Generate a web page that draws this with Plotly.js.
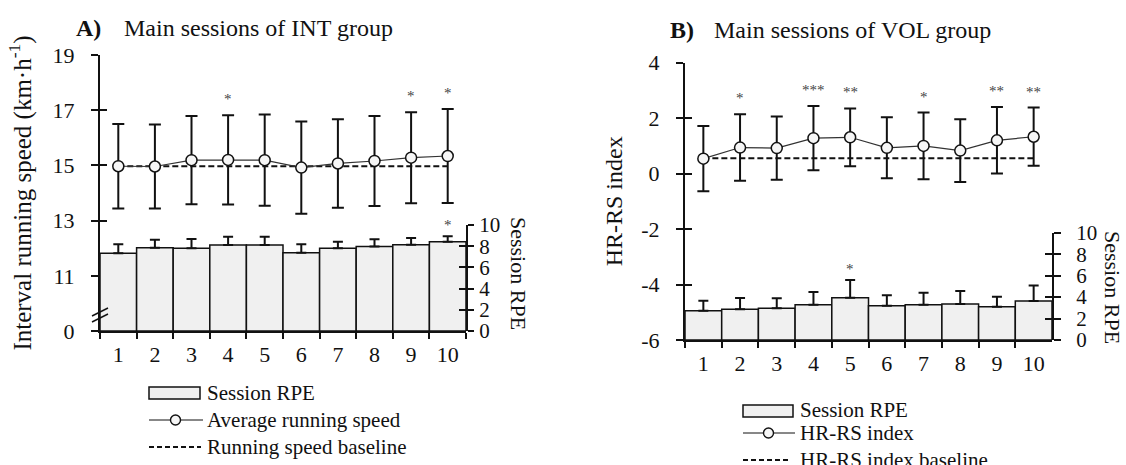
<!DOCTYPE html>
<html>
<head>
<meta charset="utf-8">
<script src="https://cdn.plot.ly/plotly-3.0.1.min.js"></script>
<style>
html,body{margin:0;padding:0;background:#fff;}
#chart{width:1126px;height:465px;}
</style>
</head>
<body>
<div id="chart"></div>
<script>
// ---------- data ----------
const sessions = ['1','2','3','4','5','6','7','8','9','10'];

// Panel A: INT group
const speedA      = [14.97, 14.96, 15.19, 15.20, 15.19, 14.92, 15.07, 15.16, 15.28, 15.34];
const speedSdA    = [1.53, 1.52, 1.60, 1.62, 1.65, 1.67, 1.60, 1.63, 1.65, 1.70];
const speedBaseA  = 14.97;
const speedStarsA = ['', '', '', '*', '', '', '', '', '*', '*'];
const rpeA        = [7.33, 7.86, 7.80, 8.11, 8.11, 7.39, 7.80, 7.96, 8.14, 8.43];
const rpeSdA      = [0.85, 0.75, 0.88, 0.79, 0.79, 0.79, 0.63, 0.69, 0.63, 0.50];
const rpeStarsA   = ['', '', '', '', '', '', '', '', '', '*'];
const speedTickVals = [9, 11, 13, 15, 17, 19];
const speedTickText = ['0', '11', '13', '15', '17', '19'];

// Panel B: VOL group
const hrrsB       = [0.54, 0.94, 0.92, 1.28, 1.31, 0.93, 1.00, 0.83, 1.20, 1.33];
const hrrsSdB     = [1.18, 1.20, 1.14, 1.16, 1.04, 1.10, 1.20, 1.13, 1.20, 1.05];
const hrrsBaseB   = 0.55;
const hrrsStarsB  = ['', '*', '', '***', '**', '', '*', '', '**', '**'];
const rpeB        = [2.73, 2.86, 2.95, 3.29, 3.94, 3.20, 3.29, 3.35, 3.10, 3.63];
const rpeSdB      = [0.93, 1.05, 0.93, 1.18, 1.65, 0.96, 1.12, 1.22, 0.94, 1.45];
const rpeStarsB   = ['', '', '', '', '*', '', '', '', '', ''];
const hrrsTickVals = [-6, -4, -2, 0, 2, 4];
const hrrsTickText = ['-6', '-4', '-2', '0', '2', '4'];
const rpeTickVals = [0, 2, 4, 6, 8, 10];

// ---------- helpers ----------
const W = 1126, H = 465;
const px = v => v / W;
const py = v => 1 - v / H;
const FONT = 'Liberation Serif, Times New Roman, serif';
const INK = '#111';
const STAR = '#444';
const BARFILL = '#f0f0f0';
const zerosLike = a => a.map(() => 0);

const traces = [];
const starNotes = [];

function addStars(xa, ya, vals, sds, stars, shift) {
  stars.forEach((s, i) => {
    if (!s) return;
    // category axes: numeric x is the category index
    starNotes.push({
      xref: xa, yref: ya, x: i, y: vals[i] + sds[i], text: s,
      xanchor: 'center', yanchor: 'bottom', yshift: shift, showarrow: false,
      font: {family: FONT, size: 15, color: STAR}
    });
  });
}

function panel(xa, yL, yR, mean, sd, base, stars, rpe, rpeSd, rpeStars) {
  // RPE bars on right axis
  traces.push({
    type: 'bar', x: sessions, y: rpe, xaxis: xa, yaxis: yR, name: 'Session RPE',
    marker: {color: BARFILL, line: {color: INK, width: 1.5}},
    error_y: {type: 'data', symmetric: false, array: rpeSd, arrayminus: zerosLike(rpeSd),
              color: INK, thickness: 2, width: 5},
    hoverinfo: 'skip', showlegend: false
  });
  // baseline
  traces.push({
    type: 'scatter', mode: 'lines', x: [sessions[0], sessions[sessions.length - 1]], y: [base, base],
    xaxis: xa, yaxis: yL, line: {color: INK, width: 2, dash: '6px,3px'},
    hoverinfo: 'skip', showlegend: false
  });
  // mean line with SD
  traces.push({
    type: 'scatter', mode: 'lines+markers', x: sessions, y: mean, xaxis: xa, yaxis: yL,
    line: {color: '#333', width: 1.2},
    marker: {symbol: 'circle', size: 11, color: '#f6f6f6', line: {color: INK, width: 1.5}},
    error_y: {type: 'data', array: sd, color: INK, thickness: 2, width: 6},
    hoverinfo: 'skip', showlegend: false, cliponaxis: false
  });
  addStars(xa, yL, mean, sd, stars, 6);
  addStars(xa, yR, rpe, rpeSd, rpeStars, 1);
}

panel('x', 'y', 'y2', speedA, speedSdA, speedBaseA, speedStarsA, rpeA, rpeSdA, rpeStarsA);
panel('x2', 'y3', 'y4', hrrsB, hrrsSdB, hrrsBaseB, hrrsStarsB, rpeB, rpeSdB, rpeStarsB);

// empty traces to activate the inner-tick overlay axes (crossing ticks)
[['x','y5'],['x','y6'],['x2','y7'],['x2','y8']].forEach(([xa, ya]) => {
  traces.push({type: 'scatter', mode: 'markers', x: [], y: [], xaxis: xa, yaxis: ya,
               hoverinfo: 'skip', showlegend: false});
});

const axisBase = {
  showgrid: false, zeroline: false, showline: true, linecolor: INK, linewidth: 2,
  ticks: 'outside', tickcolor: INK, tickwidth: 2, fixedrange: true,
  tickfont: {family: FONT, size: 22, color: INK}
};

function xAxis(dom, anchor) {
  return Object.assign({}, axisBase, {
    domain: dom, anchor: anchor, type: 'category', tickson: 'boundaries',
    ticklen: 6, range: [-0.5, 9.5], ticklabelstandoff: 3
  });
}
function innerAxis(over, side, anchor, vals, range) {
  return {overlaying: over, side: side, anchor: anchor, range: range, showline: false,
          showgrid: false, zeroline: false, ticks: 'inside', ticklen: 7, tickwidth: 2,
          tickcolor: INK, tickvals: vals, showticklabels: false, fixedrange: true};
}

function paperText(text, x, y, size, opts) {
  return Object.assign({text: text, x: px(x), y: py(y), xref: 'paper', yref: 'paper',
    xanchor: 'left', yanchor: 'middle', showarrow: false,
    font: {family: FONT, size: size, color: INK}}, opts || {});
}

const rightTickFont = {family: FONT, size: 21, color: INK};

const layout = {
  width: W, height: H, margin: {l: 0, r: 0, t: 0, b: 0},
  paper_bgcolor: '#fff', plot_bgcolor: 'rgba(0,0,0,0)',
  font: {family: FONT, size: 22, color: INK},
  showlegend: false, bargap: 0, hovermode: false,
  xaxis: xAxis([px(100), px(466)], 'y'),
  yaxis: Object.assign({}, axisBase, {
    domain: [py(331), py(55)], anchor: 'x', range: [9, 19],
    tickvals: speedTickVals, ticktext: speedTickText, ticklen: 7, ticklabelstandoff: 12,
    title: {text: 'Interval running speed (km·h<sup>-1</sup>)', standoff: 14,
            font: {family: FONT, size: 25, color: INK}}
  }),
  yaxis2: Object.assign({}, axisBase, {
    domain: [py(331), py(225)], anchor: 'x', side: 'right', range: [0, 10],
    tickvals: rpeTickVals, ticklen: 6, ticklabelstandoff: 1, tickfont: rightTickFont
  }),
  yaxis5: innerAxis('y', 'left', 'x', speedTickVals, [9, 19]),
  yaxis6: innerAxis('y2', 'right', 'x', rpeTickVals, [0, 10]),

  xaxis2: xAxis([px(685), px(1052)], 'y3'),
  yaxis3: Object.assign({}, axisBase, {
    domain: [py(340), py(62.7)], anchor: 'x2', range: [-6, 4],
    tickvals: hrrsTickVals, ticktext: hrrsTickText, ticklen: 7, ticklabelstandoff: 12,
    title: {text: 'HR-RS index', standoff: 12, font: {family: FONT, size: 24, color: INK}}
  }),
  yaxis4: Object.assign({}, axisBase, {
    domain: [py(340), py(232.7)], anchor: 'x2', side: 'right', range: [0, 10],
    tickvals: rpeTickVals, ticklen: 7, ticklabelstandoff: 11, tickfont: rightTickFont
  }),
  yaxis7: innerAxis('y3', 'left', 'x2', hrrsTickVals, [-6, 4]),
  yaxis8: innerAxis('y4', 'right', 'x2', rpeTickVals, [0, 10]),

  annotations: [
    paperText('<b>A)</b>', 74, 28, 24),
    paperText('Main sessions of INT group', 122, 28, 24),
    paperText('<b>B)</b>', 668, 30, 24),
    paperText('Main sessions of VOL group', 712, 30, 24),
    paperText('Session RPE', 519, 273, 22, {xanchor: 'center', textangle: 90}),
    paperText('Session RPE', 1113, 287, 22, {xanchor: 'center', textangle: 90}),
    // legends
    paperText('Session RPE', 205, 393, 21),
    paperText('Average running speed', 205, 420, 21),
    paperText('Running speed baseline', 205, 447, 21),
    paperText('Session RPE', 798, 410, 21),
    paperText('HR-RS index', 798, 433, 21),
    paperText('HR-RS index baseline', 798, 460, 21)
  ].concat(starNotes),
  shapes: [
    // axis break marks (panel A left axis)
    {type: 'line', xref: 'paper', yref: 'paper', x0: px(92), y0: py(322), x1: px(108), y1: py(314), line: {color: INK, width: 1.5}},
    {type: 'line', xref: 'paper', yref: 'paper', x0: px(92), y0: py(316), x1: px(108), y1: py(308), line: {color: INK, width: 1.5}},
    // legend A
    {type: 'rect', xref: 'paper', yref: 'paper', x0: px(149), x1: px(200), y0: py(399), y1: py(387), fillcolor: BARFILL, line: {color: INK, width: 1.5}},
    {type: 'line', xref: 'paper', yref: 'paper', x0: px(149), x1: px(203), y0: py(420), y1: py(420), line: {color: INK, width: 1}},
    {type: 'circle', xref: 'paper', yref: 'paper', x0: px(170.5), x1: px(180.5), y0: py(425), y1: py(415), fillcolor: '#f6f6f6', line: {color: INK, width: 1.4}},
    {type: 'line', xref: 'paper', yref: 'paper', x0: px(149), x1: px(201), y0: py(447), y1: py(447), line: {color: INK, width: 2, dash: '5px,3px'}},
    // legend B
    {type: 'rect', xref: 'paper', yref: 'paper', x0: px(743), x1: px(793), y0: py(417), y1: py(405), fillcolor: BARFILL, line: {color: INK, width: 1.5}},
    {type: 'line', xref: 'paper', yref: 'paper', x0: px(743), x1: px(795), y0: py(433), y1: py(433), line: {color: INK, width: 1}},
    {type: 'circle', xref: 'paper', yref: 'paper', x0: px(763.5), x1: px(773.5), y0: py(438), y1: py(428), fillcolor: '#f6f6f6', line: {color: INK, width: 1.4}},
    {type: 'line', xref: 'paper', yref: 'paper', x0: px(743), x1: px(790), y0: py(460), y1: py(460), line: {color: INK, width: 2, dash: '5px,3px'}}
  ]
};

Plotly.newPlot('chart', traces, layout, {staticPlot: true, displayModeBar: false});
</script>
</body>
</html>
